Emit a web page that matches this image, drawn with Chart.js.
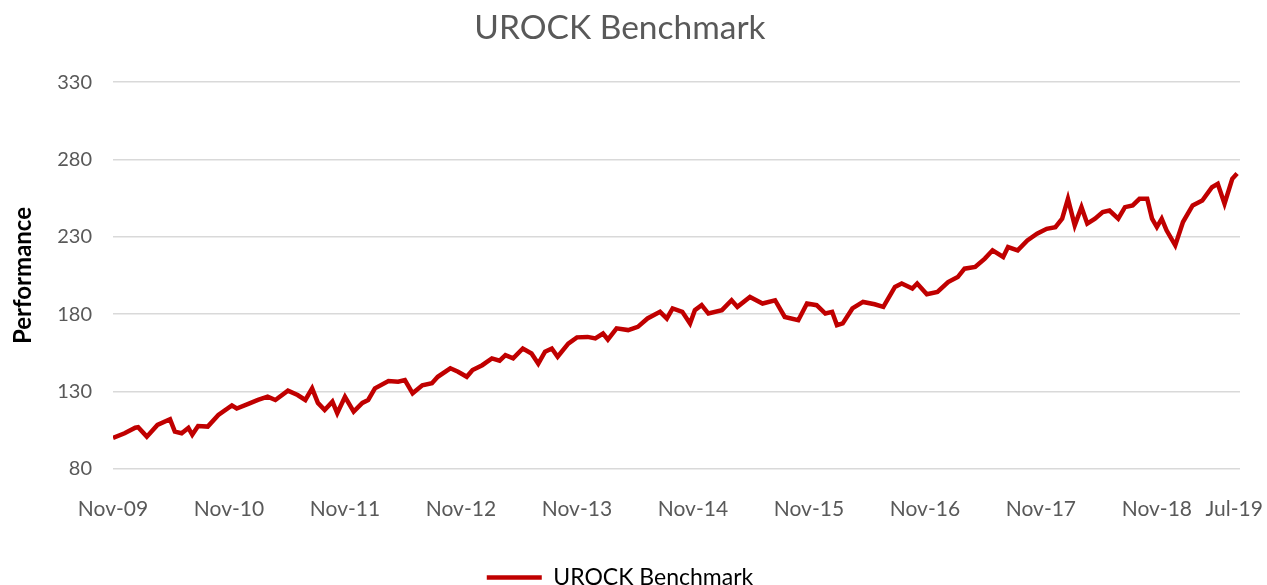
<!DOCTYPE html>
<html>
<head>
<meta charset="utf-8">
<script src="https://cdn.jsdelivr.net/npm/chart.js@4"></script>
<style>
  html, body { margin: 0; padding: 0; background: #fff; }
  #wrap { width: 1267px; height: 585px; }
</style>
</head>
<body>
<div id="wrap"><canvas id="benchChart" width="1267" height="585"></canvas></div>
<script>
// months since Nov-09 and the benchmark level read at that point
const months = [
  0, 1.2, 2.3, 2.6, 3.5, 4.6, 5.9, 6.4, 7.1, 7.8, 8.2, 8.8, 9.8, 10.9,
  12.3, 12.8, 14.0, 15.0, 16.0, 16.8, 18.1, 19.1, 19.9, 20.6, 21.2, 21.9, 22.7, 23.2,
  24.0, 24.9, 25.8, 26.4, 27.1, 28.5, 29.5, 30.2, 31.0, 32.0, 33.0, 33.6, 34.9, 35.7,
  36.6, 37.2, 38.2, 39.2, 40.0, 40.6, 41.4, 42.4, 43.3, 44.0, 44.7, 45.4, 46.0, 47.1,
  48.0, 49.1, 49.9, 50.7, 51.2, 52.1, 53.3, 54.3, 55.3, 56.6, 57.3, 57.9, 58.9, 59.7,
  60.2, 60.9, 61.6, 63.0, 64.0, 64.6, 65.9, 67.2, 68.5, 69.5, 70.9, 71.8, 72.8, 73.7,
  74.4, 74.9, 75.5, 76.5, 77.6, 78.8, 79.7, 80.9, 81.6, 82.7, 83.2, 84.2, 85.3, 86.4,
  87.4, 88.1, 89.2, 90.2, 91.0, 92.1, 92.6, 93.6, 94.6, 95.6, 96.6, 97.5, 98.2, 98.8,
  99.5, 100.2, 100.8, 101.6, 102.4, 103.1, 104.0, 104.7, 105.5, 106.2, 107.0, 107.5, 108.0, 108.5,
  109.0, 109.9, 110.7, 111.7, 112.7, 113.7, 114.3, 115.0, 115.8, 116.3
];
const performance = [
  100, 103, 106.6, 106.9, 100.8, 108.4, 112, 104, 103, 106.4, 102, 107.7, 107.3, 114.8,
  121, 119, 122, 124.5, 126.6, 124.5, 130.5, 127.7, 124.5, 132, 122.6, 118, 123.4, 116,
  126.6, 117, 122.6, 124.5, 132, 136.8, 136.3, 137.4, 128.8, 134, 135.3, 139.5, 145, 142.8,
  139.5, 143.9, 147, 151.4, 149.9, 153.5, 151.4, 157.8, 154.6, 148, 155.7, 157.8, 152.5, 161,
  165, 165.3, 164.3, 167.5, 163.6, 170.8, 169.7, 171.8, 177.2, 181.5, 177.2, 183.7, 181.5, 174,
  182.6, 185.8, 180.4, 182.6, 189, 184.7, 191.1, 186.9, 189, 178.2, 176.1, 186.9, 185.8, 180.4,
  181.5, 172.9, 174, 183.7, 187.9, 186.4, 184.7, 197.6, 199.8, 196.6, 199.8, 192.9, 194.4, 200.8,
  204, 209.4, 210.5, 215.9, 221.3, 217, 223.4, 221.3, 227.7, 232, 235.2, 236.3, 241.7, 254.6,
  237.4, 249.2, 238.5, 241.7, 246, 247, 241.7, 249.2, 250.3, 254.6, 254.6, 241.7, 236.3, 241.7,
  234.2, 224.5, 239.6, 250.3, 253.5, 262.1, 264.3, 251.4, 267.5, 271
];
const tickMonths = [0, 12, 24, 36, 48, 60, 72, 84, 96, 108, 116];
const tickLabels = ['Nov-09', 'Nov-10', 'Nov-11', 'Nov-12', 'Nov-13', 'Nov-14', 'Nov-15', 'Nov-16', 'Nov-17', 'Nov-18', 'Jul-19'];

const grey = '#595959';
const red = '#C00000';

const ctx = document.getElementById('benchChart').getContext('2d');
new Chart(ctx, {
    type: 'line',
    data: {
        datasets: [{
            label: 'UROCK Benchmark',
            data: months.map((m, i) => ({ x: m, y: performance[i] })),
            borderColor: red,
            backgroundColor: red,
            borderWidth: 4.5,
            pointRadius: 0,
            tension: 0
        }]
    },
    options: {
        responsive: false,
        animation: false,
        devicePixelRatio: 1,
        layout: { padding: { top: 4, right: 27, left: 0, bottom: -14 } },
        plugins: {
            title: {
                display: true,
                text: 'UROCK Benchmark',
                color: grey,
                font: { family: 'Lato', size: 33.5, weight: 'normal' },
                padding: { top: 4, bottom: 34 }
            },
            legend: {
                position: 'bottom',
                labels: {
                    color: '#000',
                    font: { family: 'Lato', size: 23 },
                    usePointStyle: true,
                    pointStyle: 'line',
                    pointStyleWidth: 55,
                    padding: 6
                }
            },
            tooltip: { enabled: false }
        },
        scales: {
            x: {
                type: 'linear',
                min: 0,
                max: 116.6,
                grid: { display: false },
                border: { display: false },
                afterBuildTicks: (scale) => {
                    scale.ticks = tickMonths.map(v => ({ value: v }));
                },
                afterFit: (scale) => {
                    scale.height += 18;
                    scale.paddingRight = 0;
                },
                ticks: {
                    color: grey,
                    font: { family: 'Lato', size: 21 },
                    maxRotation: 0,
                    autoSkip: false,
                    padding: 20,
                    callback: (v) => tickLabels[tickMonths.indexOf(v)]
                }
            },
            y: {
                min: 80,
                max: 330,
                afterFit: (scale) => { scale.width = 113; },
                title: {
                    display: true,
                    text: 'Performance',
                    color: '#000',
                    font: { family: 'Lato', size: 24, weight: 'bold' },
                    padding: { top: 9, bottom: 0 }
                },
                grid: { color: '#d9d9d9', lineWidth: 1.5, drawTicks: false },
                border: { display: false },
                ticks: {
                    stepSize: 50,
                    color: grey,
                    font: { family: 'Lato', size: 20 },
                    padding: 21
                }
            }
        }
    }
});
</script>
</body>
</html>
